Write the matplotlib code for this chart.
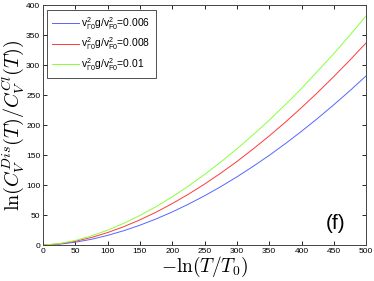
import matplotlib
matplotlib.use("Agg")
import matplotlib.pyplot as plt

plt.rcParams.update({
    "font.family": "Liberation Sans",
    "font.size": 6,
    "axes.linewidth": 0.7,
    "axes.edgecolor": "#444444",
    "xtick.direction": "in",
    "ytick.direction": "in",
    "xtick.top": True,
    "ytick.right": True,
    "xtick.major.size": 3,
    "ytick.major.size": 3,
    "xtick.major.width": 0.6,
    "ytick.major.width": 0.6,
    "xtick.major.pad": 2,
    "ytick.major.pad": 2,
})

# -ln(T/T0) sample points
x = [0, 25, 50, 75, 100, 125, 150, 175, 200, 225, 250,
     275, 300, 325, 350, 375, 400, 425, 450, 475, 500]

# ln(C_V^Dis / C_V^Cl) for each coupling value
y_006 = [0, 1.4, 4.7, 9.6, 16.1, 23.9, 33.1, 43.5, 55.2, 68.1, 82.1,
         97.3, 113.6, 131.0, 149.4, 169.0, 189.6, 211.2, 233.8, 257.4, 282.0]
y_008 = [0, 1.9, 6.3, 12.6, 20.8, 30.6, 42.0, 54.8, 69.1, 84.7, 101.6,
         119.8, 139.2, 160.0, 181.8, 204.8, 229.0, 254.4, 280.9, 308.4, 337.0]
y_010 = [0, 2.3, 7.6, 15.2, 24.8, 36.2, 49.3, 64.0, 80.4, 98.3, 117.6,
         138.3, 160.3, 183.7, 208.0, 234.0, 261.0, 290.0, 319.0, 350.0, 382.0]

labels = [
    r"v$^\mathregular{2}_\mathregular{Γ0}$g/v$^\mathregular{2}_\mathregular{F0}$=0.006",
    r"v$^\mathregular{2}_\mathregular{Γ0}$g/v$^\mathregular{2}_\mathregular{F0}$=0.008",
    r"v$^\mathregular{2}_\mathregular{Γ0}$g/v$^\mathregular{2}_\mathregular{F0}$=0.01",
]
colors = ["#5566ff", "#ff3838", "#88ff3a"]

fig = plt.figure(figsize=(3.74, 2.81), dpi=100)
ax = fig.add_axes([0.115, 0.128, 0.864, 0.854])

for ys, lab, c in zip([y_006, y_008, y_010], labels, colors):
    ax.plot(x, ys, color=c, linewidth=0.7, label=lab)

ax.set_xlim(0, 500)
ax.set_ylim(0, 400)
ax.set_xticks(range(0, 501, 50))
ax.set_yticks(range(0, 401, 50))

ax.set_xlabel(r"$-\ln(T/T_0)$", fontsize=14, labelpad=0, math_fontfamily="cm")
ax.set_ylabel(r"$\ln(C_V^{Dis}(T)/C_V^{Cl}(T))$", fontsize=14.5, labelpad=0,
              math_fontfamily="cm")

leg = ax.legend(loc="upper left", fontsize=7.4, frameon=True, fancybox=False,
                edgecolor="black", handlelength=2.6, borderpad=0.5,
                labelspacing=0.35, handletextpad=0.25, borderaxespad=0,
                bbox_to_anchor=(0.012, 0.979))
leg.get_frame().set_linewidth(0.6)

ax.text(0.905, 0.09, "(f)", transform=ax.transAxes, fontsize=15,
        ha="center", va="center")

fig.savefig("out.png", dpi=100)
